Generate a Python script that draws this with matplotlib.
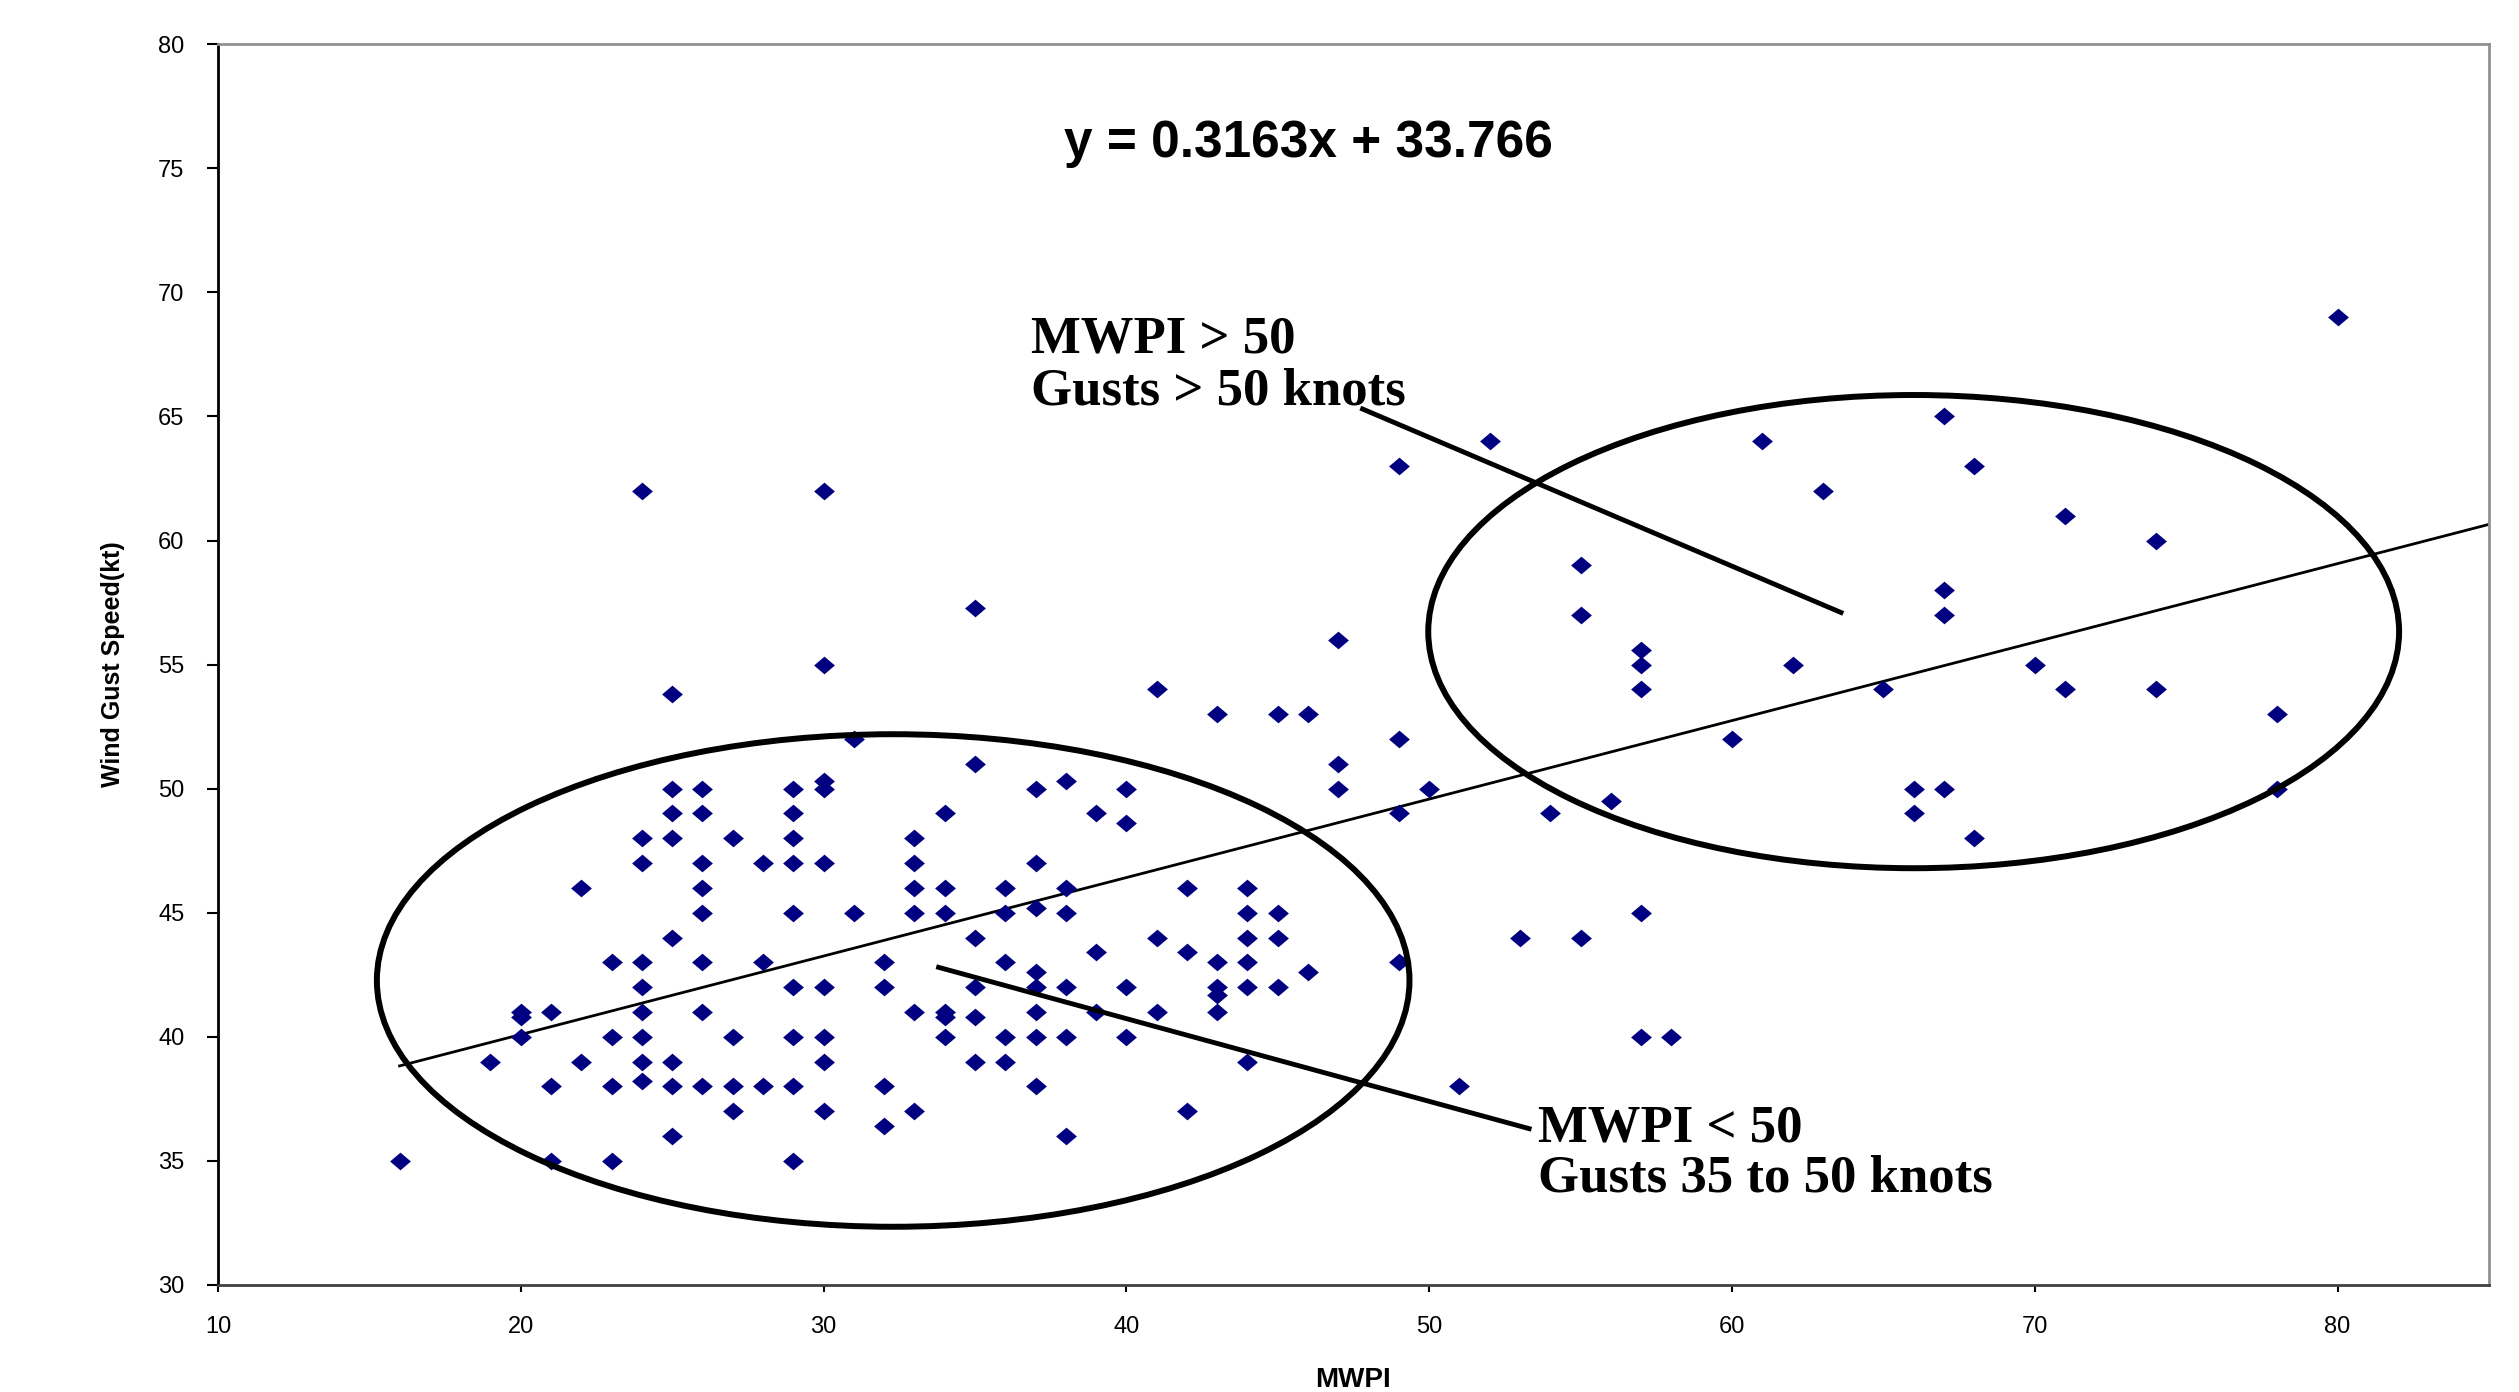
import matplotlib
matplotlib.use("Agg")
import matplotlib.pyplot as plt
from matplotlib.patches import Ellipse

mwpi = [16, 19, 20, 20, 20, 21, 21, 21, 22, 22, 23, 23, 23, 23,
        24, 24, 24, 24, 24, 24, 24, 24, 24,
        25, 25, 25, 25, 25, 25, 25, 25,
        26, 26, 26, 26, 26, 26, 26, 26,
        27, 27, 27, 27, 28, 28, 28,
        29, 29, 29, 29, 29, 29, 29, 29, 29,
        30, 30, 30, 30, 30, 30, 30, 30, 30,
        31, 31, 32, 32, 32, 32,
        33, 33, 33, 33, 33, 33, 34, 34, 34, 34, 34, 34,
        35, 35, 35, 35, 35, 35, 36, 36, 36, 36, 36,
        37, 37, 37, 37, 37, 37, 37, 37, 38, 38, 38, 38, 38, 38,
        39, 39, 39, 40, 40, 40, 40, 41, 41, 41, 42, 42, 42,
        43, 43, 43, 43, 43, 44, 44, 44, 44, 44, 44,
        45, 45, 45, 45, 46, 46, 47, 47, 47,
        49, 49, 49, 49, 50, 51, 52, 53, 54, 55, 55, 55, 56,
        57, 57, 57, 57, 57, 58, 60, 61, 62, 63, 65, 66, 66,
        67, 67, 67, 67, 68, 68, 70, 71, 71, 74, 74, 78, 78, 80]
gust = [35, 39, 41, 40.8, 40, 41, 38, 35, 46, 39, 43, 40, 38, 35,
        62, 48, 47, 43, 42, 41, 40, 39, 38.2,
        53.8, 50, 49, 48, 44, 39, 38, 36,
        50, 49, 47, 46, 45, 43, 41, 38,
        48, 40, 38, 37, 47, 43, 38,
        50, 49, 48, 47, 45, 42, 40, 38, 35,
        62, 55, 50.3, 50, 47, 42, 40, 39, 37,
        52, 45, 43, 42, 38, 36.4,
        48, 47, 46, 45, 41, 37, 49, 46, 45, 41, 40.8, 40,
        57.3, 51, 44, 42, 40.8, 39, 46, 45, 43, 40, 39,
        50, 47, 45.2, 42.6, 42, 41, 40, 38, 50.3, 46, 45, 42, 40, 36,
        49, 43.4, 41, 50, 48.6, 42, 40, 54, 44, 41, 46, 43.4, 37,
        53, 43, 42, 41.7, 41, 46, 45, 44, 43, 42, 39,
        53, 45, 44, 42, 53, 42.6, 56, 51, 50,
        63, 52, 49, 43, 50, 38, 64, 44, 49, 59, 57, 44, 49.5,
        55.6, 55, 54, 45, 40, 40, 52, 64, 55, 62, 54, 50, 49,
        65, 58, 57, 50, 63, 48, 55, 61, 54, 60, 54, 53, 50, 69]

# trend line from the equation printed on the chart
slope = 0.3163
intercept = 33.766
equation = "y = 0.3163x + 33.766"

x_ticks = [10, 20, 30, 40, 50, 60, 70, 80]
y_ticks = [30, 35, 40, 45, 50, 55, 60, 65, 70, 75, 80]

sans = "Liberation Sans"
serif = "Liberation Serif"

fig = plt.figure(figsize=(25.19, 13.92), dpi=100)
ax = fig.add_axes([0.0865, 0.0769, 0.9016, 0.8913])

diamond = [(-1, 0), (0, 0.85), (1, 0), (0, -0.85)]
ax.plot(mwpi, gust, linestyle="none", marker=diamond, markersize=15,
        color="#000080", markeredgewidth=0, zorder=3)

x_max = 85
x0 = min(mwpi)
ax.plot([x0, x_max], [slope * x0 + intercept, slope * x_max + intercept],
        color="black", linewidth=2, zorder=2)

# circled groups
ax.add_patch(Ellipse((32.3, 42.27), 34.1, 19.85, fill=False,
                     edgecolor="black", linewidth=4.3, zorder=4))
ax.add_patch(Ellipse((66.0, 56.33), 32.06, 19.07, fill=False,
                     edgecolor="black", linewidth=4.3, zorder=4))

# pointer lines to the labels
ax.plot([47.8, 63.6], [65.3, 57.1], color="black", linewidth=3.5, zorder=4)
ax.plot([33.8, 53.3], [42.8, 36.3], color="black", linewidth=3.5, zorder=4)

ax.text(37.95, 75.46, equation, fontsize=37, fontweight="bold",
        family=sans, va="baseline", ha="left")
ax.text(36.86, 67.56, "MWPI > 50", fontsize=38, fontweight="bold",
        family=serif, va="baseline", ha="left")
ax.text(36.86, 65.5, "Gusts > 50 knots", fontsize=38, fontweight="bold",
        family=serif, va="baseline", ha="left")
ax.text(53.6, 35.77, "MWPI < 50", fontsize=38, fontweight="bold",
        family=serif, va="baseline", ha="left")
ax.text(53.6, 33.75, "Gusts 35 to 50 knots", fontsize=38, fontweight="bold",
        family=serif, va="baseline", ha="left")

ax.set_xlim(10, x_max)
ax.set_ylim(30, 80)
ax.set_xticks(x_ticks)
ax.set_yticks(y_ticks)
ax.tick_params(axis="y", direction="out", length=8, width=1.5, pad=16,
               labelsize=17)
ax.tick_params(axis="x", direction="out", length=5, width=1.5, pad=17,
               labelsize=17)
for lab in ax.get_xticklabels() + ax.get_yticklabels():
    lab.set_family(sans)

ax.set_xlabel("MWPI", fontsize=20, fontweight="bold", family=sans, labelpad=21)
ax.set_ylabel("Wind Gust Speed(kt)", fontsize=18, fontweight="bold",
              family=sans, labelpad=24)

ax.spines["left"].set_color("black")
ax.spines["left"].set_linewidth(2)
ax.spines["bottom"].set_color("#404040")
ax.spines["bottom"].set_linewidth(2)
ax.spines["top"].set_color("#909090")
ax.spines["top"].set_linewidth(2)
ax.spines["right"].set_color("#909090")
ax.spines["right"].set_linewidth(2)

fig.savefig("out.png", dpi=100)
